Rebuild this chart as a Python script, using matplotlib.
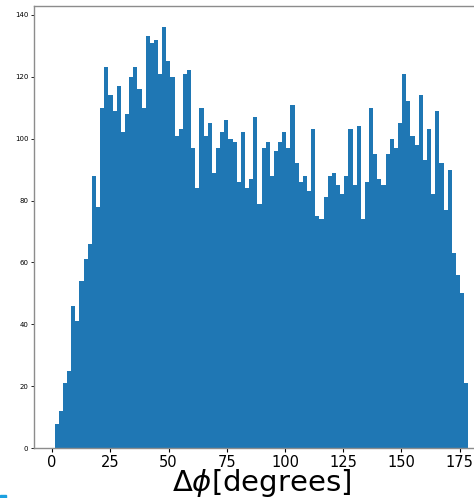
import matplotlib
matplotlib.use('Agg')
import matplotlib.pyplot as plt
import numpy as np
from matplotlib.patches import Rectangle

# histogram counts, 100 bins
counts = [8, 12, 21, 25, 46, 41, 54, 61, 66, 88, 78, 110, 123, 114, 109, 117, 102,
          108, 120, 123, 116, 110, 133, 131, 132, 121, 136, 125, 120, 101, 103,
          121, 122, 97, 84, 110, 101, 105, 89, 97, 102, 106, 100, 99, 86,
          102, 84, 87, 107, 79, 97, 99, 88, 96, 99, 102, 97, 111, 92, 86,
          88, 83, 103, 75, 74, 81, 88, 89, 85, 82, 88, 103, 85, 104, 74,
          86, 110, 95, 87, 85, 95, 100, 97, 105, 121, 112, 101, 98, 114, 93,
          103, 82, 109, 92, 77, 90, 63, 56, 50, 21]
phi_min = 1.1
phi_max = 178.7
n_bins = len(counts)

edges = np.linspace(phi_min, phi_max, n_bins + 1)
centers = 0.5 * (edges[:-1] + edges[1:])

fig = plt.figure(figsize=(4.74, 4.98), dpi=100)
ax = fig.add_axes([0.0717, 0.0998, 0.96, 0.888])

ax.hist(centers, bins=edges, weights=counts, color='#1f77b4')

ax.set_yticks(np.arange(0, 141, 20))
ax.tick_params(axis='y', labelsize=5, length=2, width=0.6, pad=2)
ax.tick_params(axis='x', labelsize=10.5, length=3, width=0.8, pad=2)
for s in ax.spines.values():
    s.set_color('0.55')
    s.set_linewidth(1.0)

ax.set_xlabel(r'$\Delta\phi$[degrees]', fontsize=21, labelpad=-2.5)

# small cyan mark at the bottom-left corner of the picture
fig.patches.append(Rectangle((0, 0), 6 / 474, 3 / 498, transform=fig.transFigure,
                             color='#1ca0e0', figure=fig))

fig.savefig('out.png', dpi=100)
